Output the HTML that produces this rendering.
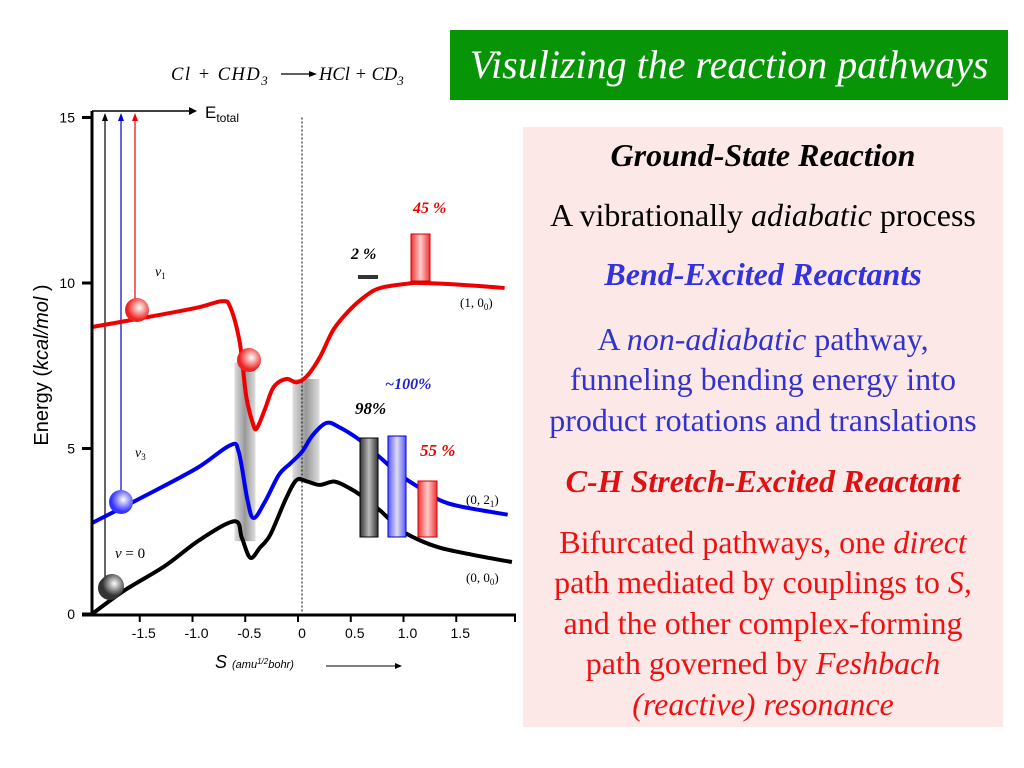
<!DOCTYPE html>
<html><head><meta charset="utf-8"><style>
body{margin:0;width:1024px;height:768px;background:#fff;overflow:hidden;position:relative;font-family:"Liberation Serif",serif}
#title{position:absolute;left:450px;top:30px;width:558px;height:70px;background:#079407;color:#fff;font-style:italic;font-size:40px;line-height:70px;text-align:center;font-family:"Liberation Serif",serif;white-space:nowrap;overflow:hidden}
#panel{position:absolute;left:523px;top:127px;width:480px;height:600px;background:#fde8e8;text-align:center;font-size:32px;line-height:40.5px;white-space:nowrap}
#panel p{margin:0}
</style></head><body>
<div id="title">Visulizing the reaction pathways</div>
<div id="panel">
<p style="margin-top:8px;font-weight:bold;font-style:italic">Ground-State Reaction</p>
<p style="margin-top:19px">A vibrationally <i>adiabatic</i> process</p>
<p style="margin-top:19px;color:#3333dd;font-weight:bold;font-style:italic">Bend-Excited Reactants</p>
<p style="margin-top:24px;color:#3333cc">A <i>non-adiabatic</i> pathway,<br>funneling bending energy into<br>product rotations and translations</p>
<p style="margin-top:21px;color:#dd1111;font-weight:bold;font-style:italic">C-H Stretch-Excited Reactant</p>
<p style="margin-top:20px;color:#ee1111">Bifurcated pathways, one <i>direct</i><br>path mediated by couplings to <i>S,</i><br>and the other complex-forming<br>path governed by <i>Feshbach</i><br><i>(reactive) resonance</i></p>
</div>
<svg width="1024" height="768" style="position:absolute;left:0;top:0" id="chart">
<defs>
<linearGradient id="gband" x1="0" x2="1"><stop offset="0" stop-color="#ddd"/><stop offset="0.5" stop-color="#999"/><stop offset="1" stop-color="#ddd"/></linearGradient>
<linearGradient id="gk" x1="0" x2="1"><stop offset="0" stop-color="#333"/><stop offset="0.5" stop-color="#bbb"/><stop offset="1" stop-color="#333"/></linearGradient>
<linearGradient id="gb" x1="0" x2="1"><stop offset="0" stop-color="#55f"/><stop offset="0.5" stop-color="#dde"/><stop offset="1" stop-color="#55f"/></linearGradient>
<linearGradient id="gr" x1="0" x2="1"><stop offset="0" stop-color="#e33"/><stop offset="0.5" stop-color="#fcc"/><stop offset="1" stop-color="#e33"/></linearGradient>
<radialGradient id="bk" cx="0.6" cy="0.4"><stop offset="0" stop-color="#fff"/><stop offset="1" stop-color="#333"/></radialGradient>
<radialGradient id="bb" cx="0.6" cy="0.4"><stop offset="0" stop-color="#fff"/><stop offset="1" stop-color="#33f"/></radialGradient>
<radialGradient id="br" cx="0.6" cy="0.4"><stop offset="0" stop-color="#fff"/><stop offset="1" stop-color="#e22"/></radialGradient>
</defs>
<g id="plot"></g>
<text x="171" y="80" font-size="18.5" font-style="italic" letter-spacing="1.5">Cl + CHD<tspan dy="5" font-size="13">3</tspan></text>
<line x1="281" y1="74" x2="311" y2="74" stroke="#000" stroke-width="1.2"/>
<polygon points="317,74 309,71 309,77" fill="#000"/>
<text x="319" y="80" font-size="18.5" font-style="italic">HCl + CD<tspan dy="5" font-size="13">3</tspan></text>
</svg>
<script>
const sRed=[-1.99,-1.5,-1.0,-0.76,-0.68,-0.59,-0.53,-0.47,-0.43,-0.35,-0.27,-0.15,-0.05,0.05,0.17,0.3,0.45,0.6,0.74,1.0,1.12,1.5,1.92];
const eRed=[8.67,8.95,9.25,9.45,9.27,8.2,6.6,5.8,5.6,6.2,6.85,7.1,7.0,7.2,7.76,8.6,9.18,9.6,9.85,9.98,10.0,9.95,9.85];
const sBlue=[-1.99,-1.5,-1.0,-0.68,-0.6,-0.52,-0.46,-0.35,-0.22,-0.11,0.0,0.1,0.23,0.35,0.55,0.75,0.93,1.12,1.3,1.5,1.95];
const eBlue=[2.75,3.55,4.4,5.1,4.9,3.5,2.9,3.4,4.2,4.55,4.9,5.4,5.77,5.65,5.25,4.7,4.2,3.8,3.45,3.25,3.0];
const sBlack=[-1.99,-1.68,-1.3,-0.97,-0.64,-0.57,-0.49,-0.4,-0.3,-0.15,-0.05,0.05,0.17,0.31,0.45,0.55,0.75,0.93,1.1,1.31,1.6,1.99];
const eBlack=[0,0.72,1.45,2.24,2.8,2.3,1.7,2.0,2.4,3.5,4.05,4.0,3.9,4.0,3.8,3.6,3.1,2.55,2.25,2.0,1.8,1.57];
const xTicks=[-1.5,-1.0,-0.5,0,0.5,1.0,1.5];
const xTickLabels=["-1.5","-1.0","-0.5","0","0.5","1.0","1.5"];
const yTicks=[0,5,10,15];
const X=s=>302+s*105.5, Y=e=>614-e*33.1;
const NS='http://www.w3.org/2000/svg';
const g=document.getElementById('plot');
function mk(t,a,p){const e=document.createElementNS(NS,t);for(const k in a)e.setAttribute(k,a[k]);(p||g).appendChild(e);return e;}
let b=mk('rect',{x:X(-0.64),y:Y(7.6),width:21,height:Y(2.2)-Y(7.6),fill:'url(#gband)'});


b=mk('rect',{x:X(-0.09),y:Y(7.1),width:27,height:Y(4.0)-Y(7.1),fill:'url(#gband)'});


b=mk('line',{x1:X(0),y1:Y(15),x2:X(0),y2:Y(0),stroke:'#000','stroke-dasharray':'2,2'});


function curve(sa,ea,col,name){
  const P=sa.map((s,i)=>[X(s),Y(ea[i])]);
  let d='M'+P[0][0].toFixed(1)+','+P[0][1].toFixed(1);
  for(let i=0;i<P.length-1;i++){
    const p0=P[i-1]||P[i],p1=P[i],p2=P[i+1],p3=P[i+2]||P[i+1];
    const c1=[p1[0]+(p2[0]-p0[0])/6,p1[1]+(p2[1]-p0[1])/6];
    const c2=[p2[0]-(p3[0]-p1[0])/6,p2[1]-(p3[1]-p1[1])/6];
    d+='C'+c1.map(v=>v.toFixed(1)).join(',')+' '+c2.map(v=>v.toFixed(1)).join(',')+' '+p2.map(v=>v.toFixed(1)).join(',');
  }
  const p=mk('path',{d:d,fill:'none',stroke:col,'stroke-width':4,'stroke-linejoin':'round'});
  
  
}
[[105,'#000'],[121,'#00c'],[135,'#e00']].forEach((a,i)=>{
  const bot=[590,500,310][i];
  const l=mk('line',{x1:a[0],y1:bot,x2:a[0],y2:118,stroke:a[1],'stroke-width':1.2});
  
  
  mk('polygon',{points:`${a[0]},113 ${a[0]-3},121 ${a[0]+3},121`,fill:a[1]});
});
curve(sRed,eRed,'#e00','red-curve-v1');
curve(sBlue,eBlue,'#00e','blue-curve-v3');
curve(sBlack,eBlack,'#000','black-curve-v0');
b=mk('line',{x1:92,y1:111,x2:92,y2:616,stroke:'#000','stroke-width':3});


b=mk('line',{x1:82,y1:615,x2:516,y2:615,stroke:'#000','stroke-width':3});


yTicks.forEach(v=>{
  mk('line',{x1:82,y1:Y(v),x2:92,y2:Y(v),stroke:'#000','stroke-width':3});
  const t=mk('text',{x:75,y:Y(v)+5,'text-anchor':'end','font-size':14,'font-family':'Liberation Sans'});t.textContent=v;
  
  
});
xTicks.forEach((v,i)=>{
  mk('line',{x1:X(v)-4,y1:615,x2:X(v)-4,y2:622,stroke:'#000','stroke-width':2});
  const t=mk('text',{x:X(v),y:638,'text-anchor':'middle','font-size':14,'font-family':'Liberation Sans'});t.textContent=xTickLabels[i];
  
  
});
mk('line',{x1:515,y1:615,x2:515,y2:622,stroke:'#000','stroke-width':2});
mk('line',{x1:92,y1:111,x2:192,y2:111,stroke:'#000','stroke-width':1.5});
mk('polygon',{points:'197,111 189,107 189,115',fill:'#000'});
let t=mk('text',{x:205,y:118,'font-size':17,'font-family':'Liberation Sans'});
t.innerHTML='E<tspan dy="4" font-size="12">total</tspan>';


t=mk('text',{x:0,y:0,transform:'translate(48,365) rotate(-90)','text-anchor':'middle','font-size':20,'font-family':'Liberation Sans'});
t.innerHTML='Energy (<tspan font-style="italic">kcal/mol</tspan> )';


t=mk('text',{x:215,y:668,'font-size':18,'font-family':'Liberation Sans','font-style':'italic'});
t.innerHTML='S <tspan font-size="11" font-style="italic">(amu<tspan dy="-4" font-size="8">1/2</tspan><tspan dy="4">bohr)</tspan></tspan>';


mk('line',{x1:326,y1:666,x2:398,y2:666,stroke:'#000','stroke-width':1});
mk('polygon',{points:'402,666 395,663 395,669',fill:'#000'});
[[110,588,'bk'],[112,586,'bk'],[121,502,'bb'],[137,310,'br'],[249,360,'br']].forEach(c=>{
  const e=mk('circle',{cx:c[0],cy:c[1],r:12,fill:'url(#'+c[2]+')'});
  
  
});
[[360,438,18,'gk','#000'],[388,436,18,'gb','#00c'],[418,481,19,'gr','#c00'],[411,234,19,'gr','#c00']].forEach(r=>{
  const e=mk('rect',{x:r[0],y:r[1],width:r[2],height:(r[1]<300?281:537)-r[1],fill:'url(#'+r[3]+')',stroke:r[4],'stroke-width':1});
  
  
});
mk('rect',{x:358,y:275,width:20,height:4,fill:'#333'});
function lab(x,y,txt,col,sz,name,it,bold){
  const e=mk('text',{x:x,y:y,fill:col,'font-size':sz,'font-style':it?'italic':'normal','font-weight':bold?'bold':'normal','font-family':'Liberation Serif'});
  e.innerHTML=txt;
  
  
}
lab(413,213,'45 %','#e00',16,'label-45',1,1);
lab(351,259,'2 %','#000',16,'label-2',1,1);
lab(385,389,'~100%','#22c',16,'label-100',1,1);
lab(355,414,'98%','#000',17,'label-98',1,1);
lab(420,456,'55 %','#e00',17,'label-55',1,1);
lab(155,276,'<tspan font-style="italic">ν</tspan><tspan dy="3" font-size="9">1</tspan>','#000',14,'label-v1',0,0);
lab(135,457,'<tspan font-style="italic">ν</tspan><tspan dy="3" font-size="9">3</tspan>','#000',14,'label-v3',0,0);
lab(115,558,'<tspan font-style="italic">v</tspan> = 0','#000',15,'label-v0',0,0);
lab(460,307,'(1, 0<tspan dy="3" font-size="9">0</tspan><tspan dy="-3">)</tspan>','#000',13,'label-1-00',0,0);
lab(466,504,'(0, 2<tspan dy="3" font-size="9">1</tspan><tspan dy="-3">)</tspan>','#000',13,'label-0-21',0,0);
lab(466,582,'(0, 0<tspan dy="3" font-size="9">0</tspan><tspan dy="-3">)</tspan>','#000',13,'label-0-00',0,0);
</script>
</body></html>
